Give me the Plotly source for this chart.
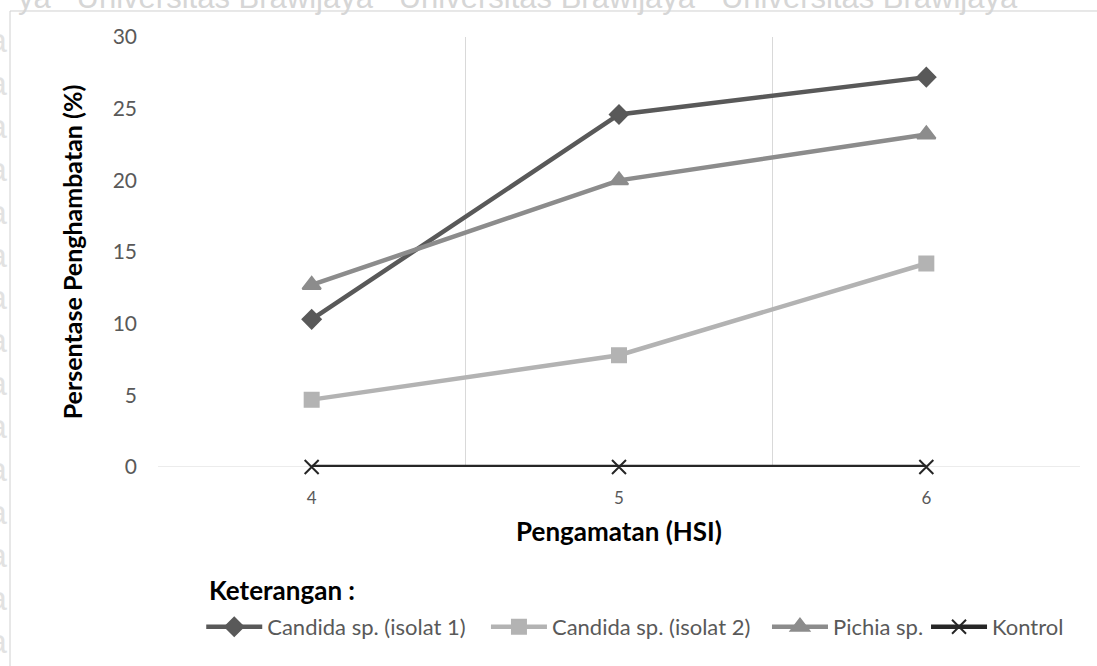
import plotly.graph_objects as go

days = ["4", "5", "6"]
candida1 = [10.3, 24.6, 27.2]
candida2 = [4.7, 7.8, 14.2]
pichia = [12.7, 20.0, 23.2]
kontrol = [0, 0, 0]

series_names = ["Candida sp. (isolat 1)", "Candida sp. (isolat 2)", "Pichia sp.", "Kontrol"]
y_ticks = [0, 5, 10, 15, 20, 25, 30]

FONT = "Lato"

fig = go.Figure()
styles = [
    (candida1, "#595959", "diamond", 14),
    (candida2, "#b3b3b3", "square", 14),
    (pichia, "#8c8c8c", "triangle-up", 16),
    (kontrol, "#262626", "x-thin", 14),
]
legend_ids = ["legend", "legend2", "legend3", "legend4"]
legend_x = [0.0469, 0.3557, 0.6605, 0.8330]

for name, (vals, col, sym, sz), lid in zip(series_names, styles, legend_ids):
    fig.add_trace(go.Scatter(
        x=days, y=vals, name=name, mode="lines+markers", legend=lid,
        line=dict(color=col, width=4.5),
        marker=dict(symbol=sym, size=sz, color=col,
                    line=dict(color=col, width=2)),
        cliponaxis=False,
    ))

legend_common = dict(orientation="h", y=-0.372, xanchor="left", yanchor="middle",
                     font=dict(size=22, color="#595959", family=FONT),
                     itemwidth=56, bgcolor="rgba(0,0,0,0)")

fig.update_layout(
    width=1097, height=666,
    margin=dict(l=158, r=17, t=37, b=199),
    paper_bgcolor="white", plot_bgcolor="white",
    font=dict(family=FONT, color="#595959"),
    showlegend=True,
    legend=dict(x=legend_x[0], **legend_common),
    legend2=dict(x=legend_x[1], **legend_common),
    legend3=dict(x=legend_x[2], **legend_common),
    legend4=dict(x=legend_x[3], **legend_common),
    xaxis=dict(type="category", tickson="boundaries", showgrid=True,
               gridcolor="#d9d9d9", gridwidth=1, ticks="", showline=False,
               tickfont=dict(size=17, color="#595959"), ticklabelstandoff=19,
               range=[-0.5, 2.5],
               title=dict(text="<b>Pengamatan (HSI)</b>",
                          font=dict(size=26, color="black"), standoff=15)),
    yaxis=dict(range=[0, 30], tickvals=y_ticks, showgrid=False, zeroline=False,
               showline=False, ticks="", ticklabelstandoff=20,
               tickfont=dict(size=21, color="#595959"),
               title=dict(text="<b>Persentase Penghambatan (%)</b>",
                          font=dict(size=25, color="black"), standoff=22)),
)

# horizontal axis line at 0
fig.add_shape(type="line", xref="paper", yref="y", x0=0, x1=1, y0=0, y1=0,
              line=dict(color="#d9d9d9", width=1), layer="below")

# chart area border (page frame)
fig.add_shape(type="rect", xref="paper", yref="paper",
              x0=-0.1605, x1=1.05, y0=-0.5, y1=1.0605,
              line=dict(color="#d0d0d0", width=1), layer="below")

fig.add_annotation(text="<b>Keterangan :</b>", xref="paper", yref="paper",
                   x=0.053, y=-0.287, xanchor="left", yanchor="middle",
                   showarrow=False, font=dict(size=26, color="black", family=FONT))

# faint watermark text at top and left edges
fig.add_annotation(text="ya   Universitas Brawijaya   Universitas Brawijaya   Universitas Brawijaya",
                   xref="paper", yref="paper", x=-0.154, y=1.092, xanchor="left",
                   yanchor="middle", showarrow=False,
                   font=dict(size=31, color="#d6d6d6", family="Liberation Sans"))
fig.add_annotation(text="<br>".join(["ya"] * 15), xref="paper", yref="paper",
                   x=-0.161, y=1.04, xanchor="right", yanchor="top", align="right",
                   showarrow=False,
                   font=dict(size=33, color="#e2e2e2", family="Liberation Sans"))

fig.write_html("out.html", config={"displayModeBar": False},
               post_script="document.body.style.margin='0';")
